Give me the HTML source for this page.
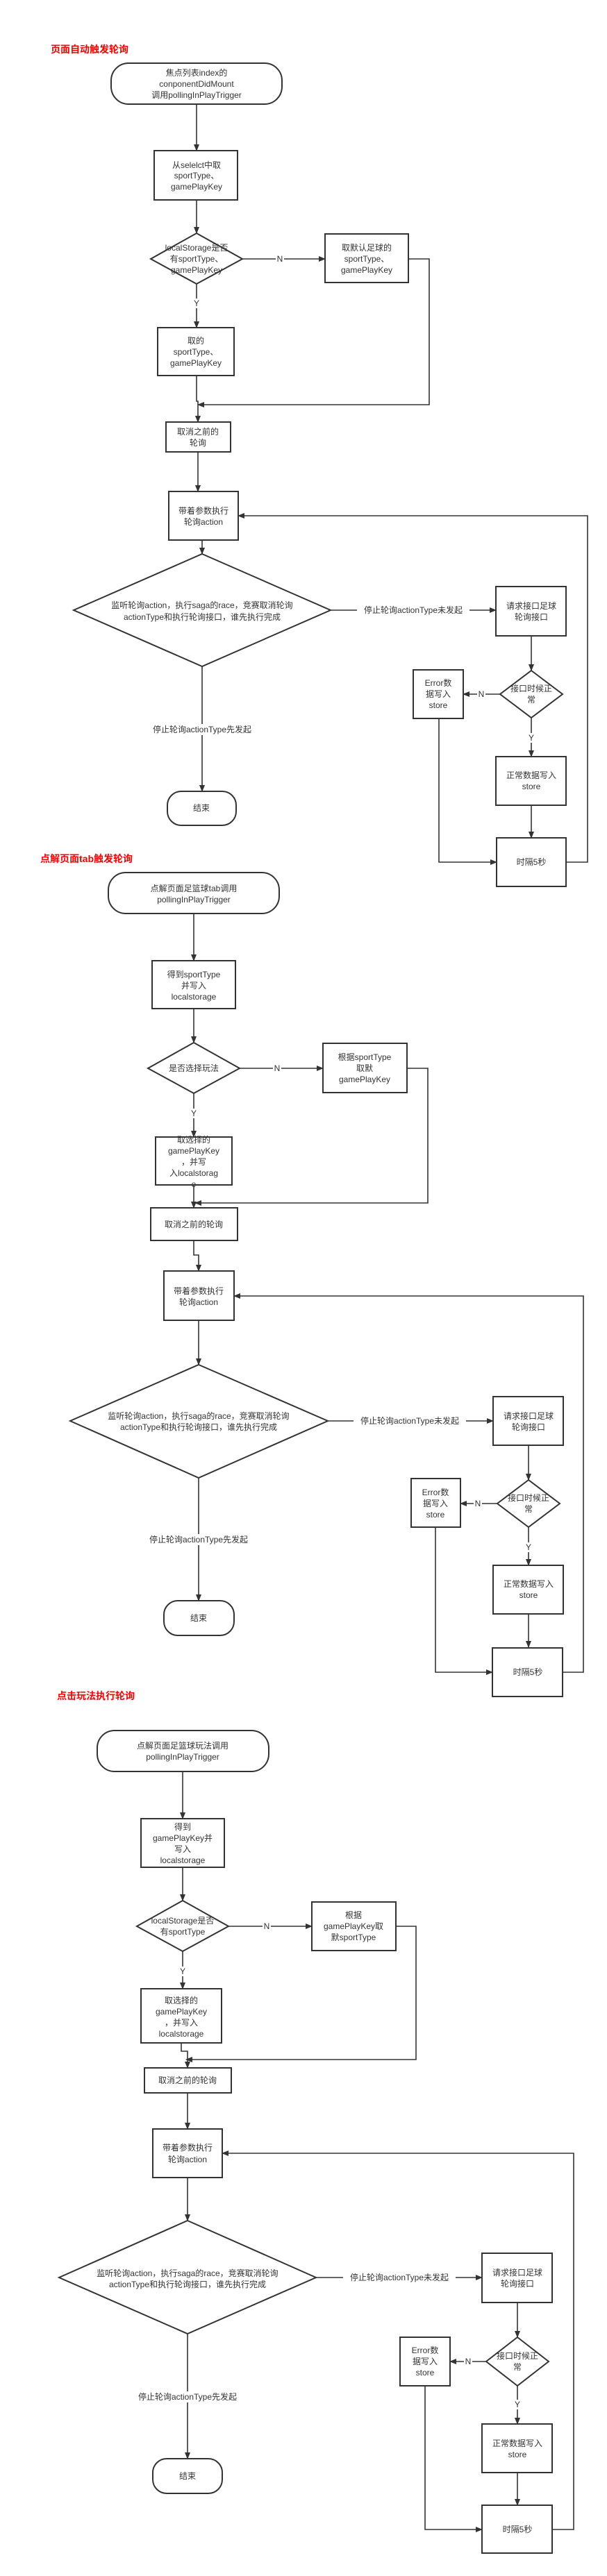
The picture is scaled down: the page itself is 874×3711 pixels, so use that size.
<!DOCTYPE html>
<html><head><meta charset="utf-8">
<style>
html,body{margin:0;padding:0;background:#fff;}
svg{display:block;}
text{font-family:"Liberation Sans","Noto Sans CJK SC",sans-serif;font-size:12px;fill:#333;text-anchor:middle;dominant-baseline:central;}
.t{font-size:14px;font-weight:bold;fill:#f00;text-anchor:start;}
.s{fill:#fff;stroke:#333;stroke-width:2;}
.l{fill:none;stroke:#333;stroke-width:1.6;}
.lb{fill:#fff;}
</style></head><body>
<svg width="874" height="3711" viewBox="0 0 874 3711" xmlns="http://www.w3.org/2000/svg">
<defs><marker id="a" markerWidth="10" markerHeight="10" refX="9" refY="5" orient="auto" markerUnits="userSpaceOnUse"><path d="M0,1 L10,5 L0,9 Z" fill="#333"/></marker></defs>

<!-- ===== Section 1 ===== -->
<text class="t" x="73" y="71">页面自动触发轮询</text>
<rect class="s" x="160" y="91" width="246" height="59" rx="25"/>
<text x="283" y="105">焦点列表index的</text><text x="283" y="121">conponentDidMount</text><text x="283" y="137">调用pollingInPlayTrigger</text>
<path class="l" d="M283,150 V217" marker-end="url(#a)"/>
<rect class="s" x="222" y="217" width="120" height="71"/>
<text x="283" y="238">从selelct中取</text><text x="283" y="253">sportType、</text><text x="283" y="269">gamePlayKey</text>
<path class="l" d="M283,288 V336" marker-end="url(#a)"/>
<polygon class="s" points="283,336 349,373 283,409 217,373"/>
<text x="283" y="357">localStorage是否</text><text x="283" y="373">有sportType、</text><text x="283" y="389">gamePlayKey</text>
<path class="l" d="M349,373 H468" marker-end="url(#a)"/>
<rect class="lb" x="397" y="366" width="12" height="14"/><text x="403" y="373">N</text>
<rect class="s" x="468" y="337" width="120" height="70"/>
<text x="528" y="357">取默认足球的</text><text x="528" y="373">sportType、</text><text x="528" y="389">gamePlayKey</text>
<path class="l" d="M588,373 H618 V583 H285" marker-end="url(#a)"/>
<path class="l" d="M283,409 V472" marker-end="url(#a)"/>
<rect class="lb" x="277" y="430" width="12" height="14"/><text x="283" y="437">Y</text>
<rect class="s" x="227" y="472" width="110" height="69"/>
<text x="282" y="491">取的</text><text x="282" y="507">sportType、</text><text x="282" y="523">gamePlayKey</text>
<path class="l" d="M283,541 V578 H285 V608" marker-end="url(#a)"/>
<rect class="s" x="239" y="608" width="93" height="43"/>
<text x="285" y="622">取消之前的</text><text x="285" y="638">轮询</text>
<path class="l" d="M285,651 V708" marker-end="url(#a)"/>
<rect class="s" x="243" y="708" width="100" height="70"/>
<text x="293" y="736">带着参数执行</text><text x="293" y="752">轮询action</text>
<path class="l" d="M291,778 V798" marker-end="url(#a)"/>
<polygon class="s" points="291,798 476,879 291,960 106,879"/>
<text x="291" y="872">监听轮询action，执行saga的race，竞赛取消轮询</text><text x="291" y="889">actionType和执行轮询接口，谁先执行完成</text>
<path class="l" d="M476,879 H714" marker-end="url(#a)"/>
<rect class="lb" x="514" y="871" width="162" height="16"/><text x="595" y="879">停止轮询actionType未发起</text>
<rect class="s" x="714" y="845" width="101" height="71"/>
<text x="765" y="873">请求接口足球</text><text x="765" y="889">轮询接口</text>
<path class="l" d="M765,916 V966" marker-end="url(#a)"/>
<polygon class="s" points="765,966 810,1000 765,1034 720,1000"/>
<text x="765" y="992">接口时候正</text><text x="765" y="1008">常</text>
<path class="l" d="M720,1000 H667" marker-end="url(#a)"/>
<rect class="lb" x="687" y="993" width="12" height="14"/><text x="693" y="1000">N</text>
<rect class="s" x="595" y="965" width="72" height="70"/>
<text x="631" y="984">Error数</text><text x="631" y="1000">据写入</text><text x="631" y="1016">store</text>
<path class="l" d="M765,1034 V1090" marker-end="url(#a)"/>
<rect class="lb" x="759" y="1056" width="12" height="14"/><text x="765" y="1063">Y</text>
<rect class="s" x="714" y="1090" width="101" height="70"/>
<text x="765" y="1117">正常数据写入</text><text x="765" y="1133">store</text>
<path class="l" d="M765,1160 V1207" marker-end="url(#a)"/>
<rect class="s" x="715" y="1207" width="100" height="70"/>
<text x="765" y="1242">时隔5秒</text>
<path class="l" d="M632,1035 V1242 H715" marker-end="url(#a)"/>
<path class="l" d="M815,1242 H846 V743 H343" marker-end="url(#a)"/>
<path class="l" d="M291,960 V1140" marker-end="url(#a)"/>
<rect class="lb" x="208" y="1043" width="166" height="16"/><text x="291" y="1051">停止轮询actionType先发起</text>
<rect class="s" x="241" y="1140" width="99" height="49" rx="20"/>
<text x="290" y="1164">结束</text>

<!-- ===== Section 2 ===== -->
<text class="t" x="58" y="1237">点解页面tab触发轮询</text>
<rect class="s" x="156" y="1257" width="246" height="59" rx="25"/>
<text x="279" y="1280">点解页面足篮球tab调用</text><text x="279" y="1296">pollingInPlayTrigger</text>
<path class="l" d="M279,1316 V1384" marker-end="url(#a)"/>
<rect class="s" x="219" y="1384" width="120" height="69"/>
<text x="279" y="1404">得到sportType</text><text x="279" y="1420">并写入</text><text x="279" y="1436">localstorage</text>
<path class="l" d="M279,1453 V1502" marker-end="url(#a)"/>
<polygon class="s" points="279,1502 345,1539 279,1575 213,1539"/>
<text x="279" y="1539">是否选择玩法</text>
<path class="l" d="M345,1539 H465" marker-end="url(#a)"/>
<rect class="lb" x="393" y="1532" width="12" height="14"/><text x="399" y="1539">N</text>
<rect class="s" x="465" y="1503" width="121" height="71"/>
<text x="525" y="1523">根据sportType</text><text x="525" y="1539">取默</text><text x="525" y="1555">gamePlayKey</text>
<path class="l" d="M586,1539 H616 V1733 H281" marker-end="url(#a)"/>
<path class="l" d="M279,1575 V1638" marker-end="url(#a)"/>
<rect class="lb" x="273" y="1597" width="12" height="14"/><text x="279" y="1604">Y</text>
<rect class="s" x="224" y="1638" width="110" height="69"/>
<text x="279" y="1642">取选择的</text><text x="279" y="1658">gamePlayKey</text><text x="279" y="1674">，并写</text><text x="279" y="1690">入localstorag</text><text x="279" y="1706">e</text>
<path class="l" d="M279,1707 V1740" marker-end="url(#a)"/>
<rect class="s" x="217" y="1740" width="125" height="47"/>
<text x="279" y="1764">取消之前的轮询</text>
<path class="l" d="M279,1787 V1808 H286 V1831" marker-end="url(#a)"/>
<rect class="s" x="236" y="1831" width="101" height="71"/>
<text x="286" y="1860">带着参数执行</text><text x="286" y="1876">轮询action</text>
<path class="l" d="M286,1902 V1966" marker-end="url(#a)"/>
<polygon class="s" points="286,1966 472,2047 286,2129 101,2047"/>
<text x="286" y="2040">监听轮询action，执行saga的race，竞赛取消轮询</text><text x="286" y="2056">actionType和执行轮询接口，谁先执行完成</text>
<path class="l" d="M472,2047 H710" marker-end="url(#a)"/>
<rect class="lb" x="509" y="2039" width="162" height="16"/><text x="590" y="2047">停止轮询actionType未发起</text>
<rect class="s" x="710" y="2012" width="101" height="70"/>
<text x="761" y="2040">请求接口足球</text><text x="761" y="2056">轮询接口</text>
<path class="l" d="M761,2082 V2132" marker-end="url(#a)"/>
<polygon class="s" points="761,2132 806,2166 761,2200 716,2166"/>
<text x="761" y="2158">接口时候正</text><text x="761" y="2174">常</text>
<path class="l" d="M716,2166 H663" marker-end="url(#a)"/>
<rect class="lb" x="682" y="2159" width="12" height="14"/><text x="688" y="2166">N</text>
<rect class="s" x="592" y="2130" width="71" height="70"/>
<text x="627" y="2150">Error数</text><text x="627" y="2166">据写入</text><text x="627" y="2182">store</text>
<path class="l" d="M761,2200 V2255" marker-end="url(#a)"/>
<rect class="lb" x="755" y="2222" width="12" height="14"/><text x="761" y="2229">Y</text>
<rect class="s" x="710" y="2255" width="101" height="70"/>
<text x="761" y="2282">正常数据写入</text><text x="761" y="2298">store</text>
<path class="l" d="M761,2325 V2373" marker-end="url(#a)"/>
<rect class="s" x="709" y="2374" width="101" height="70"/>
<text x="760" y="2409">时隔5秒</text>
<path class="l" d="M627,2200 V2409 H709" marker-end="url(#a)"/>
<path class="l" d="M810,2409 H840 V1867 H337" marker-end="url(#a)"/>
<path class="l" d="M286,2129 V2306" marker-end="url(#a)"/>
<rect class="lb" x="203" y="2210" width="166" height="16"/><text x="286" y="2218">停止轮询actionType先发起</text>
<rect class="s" x="236" y="2306" width="101" height="50" rx="20"/>
<text x="286" y="2331">结束</text>

<!-- ===== Section 3 ===== -->
<text class="t" x="82" y="2443">点击玩法执行轮询</text>
<rect class="s" x="140" y="2493" width="247" height="59" rx="25"/>
<text x="263" y="2515">点解页面足篮球玩法调用</text><text x="263" y="2531">pollingInPlayTrigger</text>
<path class="l" d="M263,2552 V2620" marker-end="url(#a)"/>
<rect class="s" x="203" y="2620" width="120" height="70"/>
<text x="263" y="2632">得到</text><text x="263" y="2648">gamePlayKey并</text><text x="263" y="2664">写入</text><text x="263" y="2680">localstorage</text>
<path class="l" d="M263,2690 V2738" marker-end="url(#a)"/>
<polygon class="s" points="263,2738 329,2775 263,2811 197,2775"/>
<text x="263" y="2767">localStorage是否</text><text x="263" y="2783">有sportType</text>
<path class="l" d="M329,2775 H449" marker-end="url(#a)"/>
<rect class="lb" x="378" y="2768" width="12" height="14"/><text x="384" y="2775">N</text>
<rect class="s" x="449" y="2740" width="121" height="70"/>
<text x="509" y="2759">根据</text><text x="509" y="2775">gamePlayKey取</text><text x="509" y="2791">默sportType</text>
<path class="l" d="M570,2775 H599 V2967 H268" marker-end="url(#a)"/>
<path class="l" d="M263,2811 V2865" marker-end="url(#a)"/>
<rect class="lb" x="257" y="2833" width="12" height="14"/><text x="263" y="2840">Y</text>
<rect class="s" x="203" y="2865" width="116" height="78"/>
<text x="261" y="2882">取选择的</text><text x="261" y="2898">gamePlayKey</text><text x="261" y="2914">，并写入</text><text x="261" y="2930">localstorage</text>
<path class="l" d="M261,2943 V2955 H270 V2979" marker-end="url(#a)"/>
<rect class="s" x="208" y="2979" width="125" height="36"/>
<text x="270" y="2997">取消之前的轮询</text>
<path class="l" d="M270,3015 V3067" marker-end="url(#a)"/>
<rect class="s" x="220" y="3067" width="100" height="70"/>
<text x="270" y="3094">带着参数执行</text><text x="270" y="3111">轮询action</text>
<path class="l" d="M270,3137 V3199" marker-end="url(#a)"/>
<polygon class="s" points="270,3199 455,3281 270,3362 85,3281"/>
<text x="270" y="3275">监听轮询action，执行saga的race，竞赛取消轮询</text><text x="270" y="3291">actionType和执行轮询接口，谁先执行完成</text>
<path class="l" d="M455,3281 H694" marker-end="url(#a)"/>
<rect class="lb" x="494" y="3273" width="162" height="16"/><text x="575" y="3281">停止轮询actionType未发起</text>
<rect class="s" x="694" y="3246" width="101" height="71"/>
<text x="745" y="3274">请求接口足球</text><text x="745" y="3290">轮询接口</text>
<path class="l" d="M745,3317 V3367" marker-end="url(#a)"/>
<polygon class="s" points="745,3367 790,3402 745,3437 700,3402"/>
<text x="745" y="3394">接口时候正</text><text x="745" y="3410">常</text>
<path class="l" d="M700,3402 H648" marker-end="url(#a)"/>
<rect class="lb" x="668" y="3395" width="12" height="14"/><text x="674" y="3402">N</text>
<rect class="s" x="576" y="3367" width="72" height="70"/>
<text x="612" y="3386">Error数</text><text x="612" y="3402">据写入</text><text x="612" y="3418">store</text>
<path class="l" d="M745,3437 V3492" marker-end="url(#a)"/>
<rect class="lb" x="739" y="3457" width="12" height="14"/><text x="745" y="3464">Y</text>
<rect class="s" x="694" y="3492" width="101" height="70"/>
<text x="745" y="3520">正常数据写入</text><text x="745" y="3536">store</text>
<path class="l" d="M745,3562 V3609" marker-end="url(#a)"/>
<rect class="s" x="694" y="3609" width="101" height="69"/>
<text x="745" y="3644">时隔5秒</text>
<path class="l" d="M612,3437 V3644 H694" marker-end="url(#a)"/>
<path class="l" d="M795,3644 H826 V3102 H320" marker-end="url(#a)"/>
<path class="l" d="M270,3362 V3542" marker-end="url(#a)"/>
<rect class="lb" x="187" y="3445" width="166" height="16"/><text x="270" y="3453">停止轮询actionType先发起</text>
<rect class="s" x="220" y="3542" width="100" height="50" rx="20"/>
<text x="270" y="3567">结束</text>
</svg>
</body></html>
